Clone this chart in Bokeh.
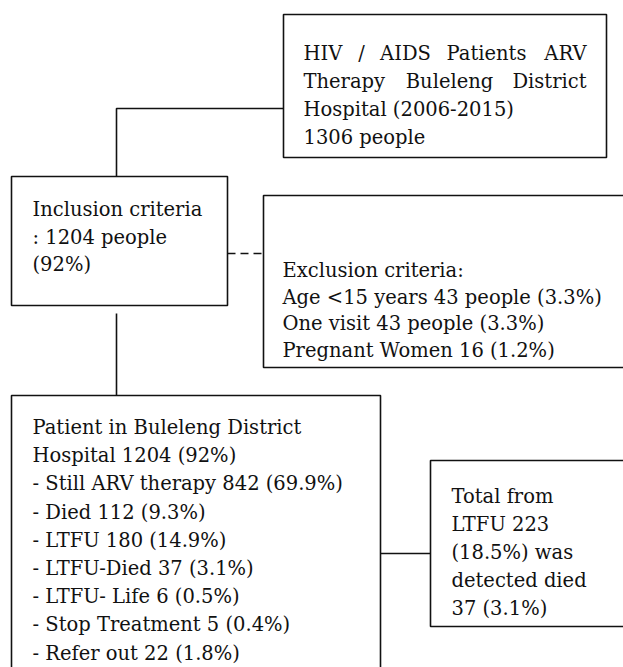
from bokeh.plotting import figure
from bokeh.models import Range1d
from bokeh.core.properties import value
from bokeh.embed import file_html
from bokeh.resources import INLINE

# ---- content ----
top_words_l1 = ["HIV", "/", "AIDS", "Patients", "ARV"]
top_words_l2 = ["Therapy", "Buleleng", "District"]
top_lines_rest = ["Hospital (2006-2015)", "1306 people"]
inclusion_lines = ["Inclusion criteria", ": 1204 people", "(92%)"]
exclusion_lines = ["Exclusion criteria:",
                   "Age <15 years 43 people (3.3%)",
                   "One visit 43 people (3.3%)",
                   "Pregnant Women 16 (1.2%)"]
patient_lines = ["Patient in Buleleng District",
                 "Hospital 1204 (92%)",
                 "- Still ARV therapy 842 (69.9%)",
                 "- Died 112 (9.3%)",
                 "- LTFU 180 (14.9%)",
                 "- LTFU-Died 37 (3.1%)",
                 "- LTFU- Life 6 (0.5%)",
                 "- Stop Treatment 5 (0.4%)",
                 "- Refer out 22 (1.8%)"]
ltfu_lines = ["Total from", "LTFU 223", "(18.5%) was", "detected died", "37 (3.1%)"]

FONT = value("DejaVu Serif")
FS = "19.5px"
W, H = 623, 667

p = figure(width=W, height=H, output_backend="svg", toolbar_location=None,
           x_range=Range1d(0, W), y_range=Range1d(H, 0),
           x_axis_location=None, y_axis_location=None, min_border=0,
           outline_line_color=None, background_fill_color="white",
           border_fill_color="white")
p.grid.visible = False

# boxes (left, right, top, bottom)
boxes = [(283, 606, 14, 157), (11, 227, 176, 305), (263, 640, 195, 367),
         (11, 380, 395, 700), (430, 640, 460, 626)]
p.quad(left=[b[0] for b in boxes], right=[b[1] for b in boxes],
       top=[b[2] for b in boxes], bottom=[b[3] for b in boxes],
       fill_color=None, line_color="#111111", line_width=1.6)

# connectors
p.line(x=[283, 116, 116], y=[108, 108, 176], line_color="#111111", line_width=1.6)
p.segment(x0=[116, 380], y0=[313, 553], x1=[116, 430], y1=[395, 553],
          line_color="#111111", line_width=1.6)
p.segment(x0=[227], y0=[253], x1=[263], y1=[253], line_color="#111111",
          line_width=1.6, line_dash="8 5")

def block(lines, x, y0, step):
    p.text(x=[x] * len(lines), y=[y0 + step * i for i in range(len(lines))],
           text=lines, text_font=FONT, text_font_size=FS, text_color="#111111",
           text_baseline="alphabetic", text_align="left")

# justified top lines
def justified(words, centers, y, left, right):
    p.text(x=[left], y=[y], text=[words[0]], text_font=FONT, text_font_size=FS,
           text_color="#111111", text_baseline="alphabetic", text_align="left")
    p.text(x=[right], y=[y], text=[words[-1]], text_font=FONT, text_font_size=FS,
           text_color="#111111", text_baseline="alphabetic", text_align="right")
    if len(words) > 2:
        p.text(x=centers, y=[y] * len(centers), text=words[1:-1], text_font=FONT,
               text_font_size=FS, text_color="#111111", text_baseline="alphabetic",
               text_align="center")

justified(top_words_l1, [361, 405, 486], 53, 303, 586)
justified(top_words_l2, [449], 81, 303, 586)
block(top_lines_rest, 303, 109, 28)
block(inclusion_lines, 32, 209, 27.5)
block(exclusion_lines, 282, 270, 26.5)
block(patient_lines, 32, 427, 28.2)
block(ltfu_lines, 451, 496, 28)

open("out.html", "w").write(file_html(p, INLINE))
